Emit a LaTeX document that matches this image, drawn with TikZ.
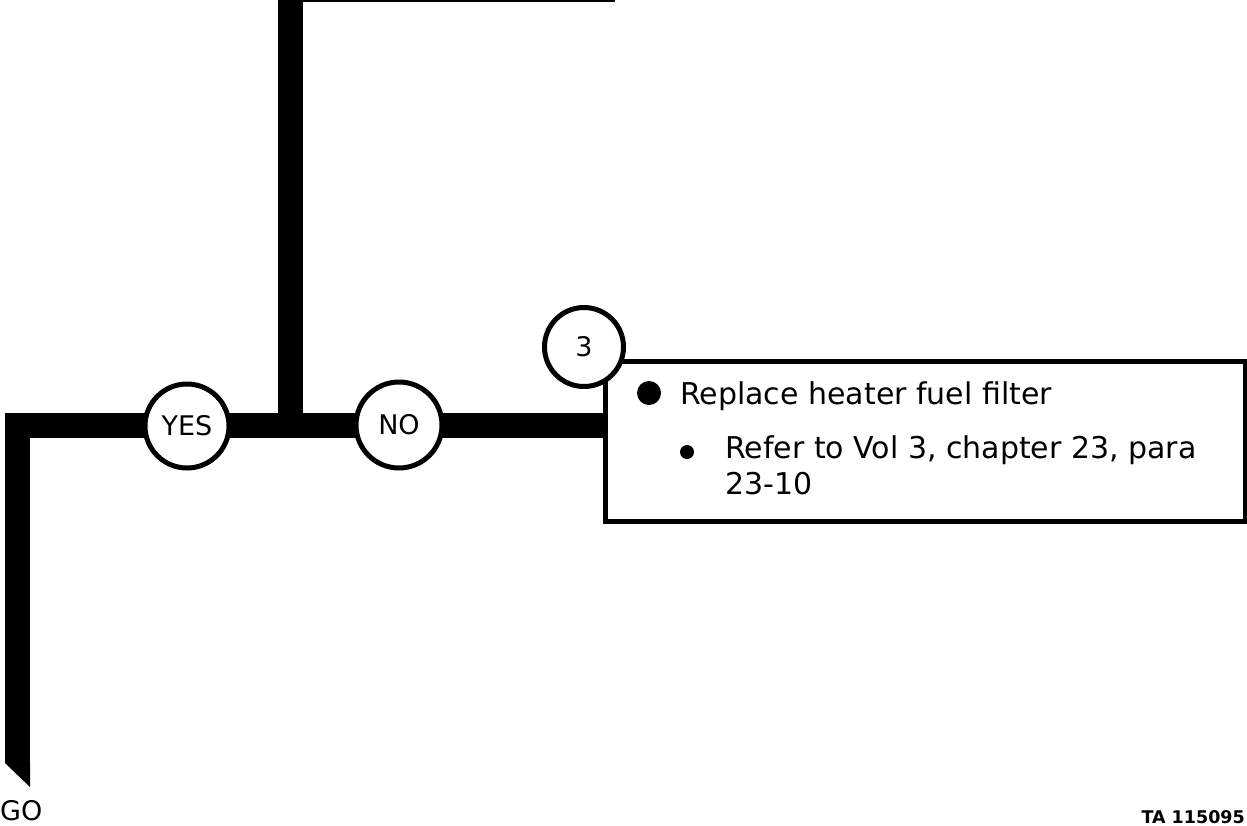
\documentclass[tikz,border=0pt]{standalone}
\usepackage{fontspec}
\setmainfont{DejaVu Sans}
\begin{document}
\begin{tikzpicture}[x=1pt,y=-1pt,
  bar/.style={line width=25pt, line cap=butt},
  ring/.style={circle, draw, line width=5pt, fill=white, inner sep=0pt},
  lbl/.style={font=\fontsize{27}{30}\selectfont},
  body/.style={anchor=base west, inner sep=0pt, font=\fontsize{30}{36}\selectfont},
  dot/.style={circle, fill=black, inner sep=0pt}]
\useasboundingbox (0,0) rectangle (1247,825);
% coordinates
\coordinate (top) at (290,0);
\coordinate (junction) at (290,425);
\coordinate (corner) at (17.5,425);
\coordinate (legend) at (17.5,763);
% box
\node[draw, line width=5pt, minimum width=640pt, minimum height=160pt, inner sep=0pt] (box) at (925,441) {};
\coordinate (boxin) at (box.west |- junction);
% bars
\draw[bar] (top) -- (junction);
\draw[bar, line join=miter] (boxin) -- (corner) -- (legend);
\fill (legend) ++(-12.5,0) -- ++(25,24) -- ++(0,-24) -- cycle;
\draw[line width=2pt] (302,1) -- (615,1);
% circles
\node[ring, minimum size=84pt] (yes) at (187,426) {};
\node[lbl] at (yes) {YES};
\node[ring, minimum size=86pt] (no) at (399,425) {};
\node[lbl] at (no) {NO};
\node[ring, minimum size=79pt] (three) at (584,347) {};
\node[lbl] at (three) {3};
% text
\node[dot, minimum size=24pt] (b1) at (649,393) {};
\node[body] (t1) at (680,404) {Replace heater fuel filter};
\node[dot, minimum size=14pt] (b2) at (687,452) {};
\node[body] (t2) at (725,458) {Refer to Vol 3, chapter 23, para};
\node[body] (t3) at (725,494) {23-10};
\node[anchor=base west, inner sep=0pt, lbl] (go) at (0,820) {GO};
\node[anchor=base east, inner sep=0pt, font=\fontsize{17.5}{20}\selectfont\bfseries] (ta) at (1245,823) {TA 115095};
\end{tikzpicture}
\end{document}
